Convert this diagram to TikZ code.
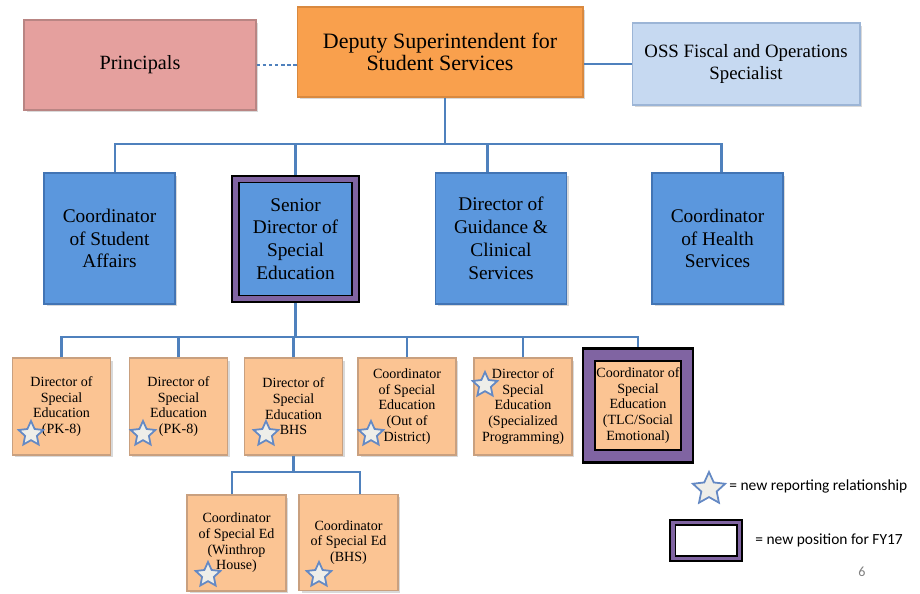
\documentclass[tikz,border=0pt]{standalone}
\usepackage{fontspec}
\setmainfont{Liberation Serif}
\newfontfamily\legendfont{Carlito}
\usepackage{tikz}
\usetikzlibrary{positioning}
\usetikzlibrary{shapes.geometric}
\usetikzlibrary{shadows}
\usepackage{xcolor}

\definecolor{linkblue}{HTML}{4F81BD}
\definecolor{principalpink}{HTML}{E5A09E}
\definecolor{principaledge}{HTML}{B98583}
\definecolor{deputyorange}{HTML}{F9A04D}
\definecolor{deputyedge}{HTML}{D9893F}
\definecolor{osslight}{HTML}{C6D9F1}
\definecolor{ossedge}{HTML}{9CB5D6}
\definecolor{midblue}{HTML}{5B97DD}
\definecolor{midedge}{HTML}{4274B4}
\definecolor{newpurple}{HTML}{8064A2}
\definecolor{lowpeach}{HTML}{FBC493}
\definecolor{lowedge}{HTML}{C9A07F}
\definecolor{starfill}{HTML}{EEEEE9}
\definecolor{staredge}{HTML}{6489C4}

\begin{document}
\begin{tikzpicture}[x=0.02cm, y=-0.02cm,
box/.style={rectangle, align=center, inner sep=0pt, line width=0.6pt,
  drop shadow={shadow xshift=0.05cm, shadow yshift=-0.05cm, opacity=0.3}},
topbox/.style={box, font=\fontsize{11.5}{12.8}\selectfont},
midbox/.style={box, fill=midblue, draw=midedge, minimum width=2.62cm, minimum height=2.62cm, font=\fontsize{11}{13}\selectfont},
lowbox/.style={box, fill=lowpeach, draw=lowedge, minimum width=1.96cm, minimum height=1.94cm, font=\fontsize{8}{8.9}\selectfont},
newpos/.style={draw=black, line width=1.1pt, double=newpurple, double distance=0.1cm, outer sep=2.5pt},
link/.style={linkblue, line width=1.7pt},
sublink/.style={linkblue, line width=1.3pt},
starmark/.style={star, star points=5, star point ratio=2.1, draw=staredge, fill=starfill, line width=1pt, minimum size=0.52cm, inner sep=0pt},
legend/.style={anchor=west, inner sep=0pt, font=\legendfont\fontsize{8.8}{10}\selectfont}
]
\useasboundingbox (0,0) rectangle (920,594);

% TOP %
%%%%%%%%%%%%  Deputy and side boxes %%%%%%%%%%%%%
{
\node[topbox, fill=principalpink, draw=principaledge, minimum width=4.64cm, minimum height=1.8cm] (pr) at (140,65) {Principals};

\node[topbox, fill=deputyorange, draw=deputyedge, minimum width=5.72cm, minimum height=1.8cm, font=\fontsize{12.5}{12.8}\selectfont] (dep) at (440,52)
{Deputy Superintendent for\\Student Services};

\node[topbox, fill=osslight, draw=ossedge, minimum width=4.56cm, minimum height=1.64cm, font=\fontsize{10.7}{12}\selectfont] (oss) at (746,64)
{OSS Fiscal and Operations\\Specialist};
}

%%%%%%%%%%%%  Middle row %%%%%%%%%%%%%
{
\node[midbox] (sa) at (109.5,238.5) {Coordinator\\of Student\\Affairs};
\node[midbox, newpos, minimum width=2.4cm, minimum height=2.4cm] (sd) at (295.5,239)
{Senior\\Director of\\Special\\Education};
\node[midbox] (gd) at (501,238.5) {Director of\\Guidance \&\\Clinical\\Services};
\node[midbox] (hs) at (717.5,238.5) {Coordinator\\of Health\\Services};
}

%%%%%%%%%%%%  Special education row %%%%%%%%%%%%%
{
\node[lowbox] (b1) at (61.5,406.5) {Director of\\Special\\Education\\(PK-8)};
\node[lowbox] (b2) at (178.5,406.5) {Director of\\Special\\Education\\(PK-8)};
\node[lowbox] (b3) at (293.5,406.5) {Director of\\Special\\Education\\BHS};
\node[lowbox] (b4) at (407,406.5) {Coordinator\\of Special\\Education\\(Out of\\District)};
\node[lowbox] (b5) at (523,406.5) {Director of\\Special\\Education\\(Specialized\\Programming)};
\node[lowbox, newpos, line width=1.25pt, double distance=0.2cm, outer sep=4pt, minimum height=2.04cm] (b6) at (638,405.5)
{Coordinator of\\Special\\Education\\(TLC/Social\\Emotional)};

\node[lowbox, minimum width=1.98cm, minimum height=1.92cm] (b7) at (236.5,543) {Coordinator\\of Special Ed\\(Winthrop\\House)};
\node[lowbox, minimum width=1.98cm, minimum height=1.92cm] (b8) at (348.5,542.5) {Coordinator\\of Special Ed\\(BHS)};
}

% links
{
\draw[linkblue, line width=0.9pt, dash pattern=on 2pt off 1.5pt] (pr.east) -- (pr.east -| dep.west);
\draw[linkblue, line width=1.1pt] (oss.west) -- (oss.west -| dep.east);

\coordinate (topbus) at (0,144);
\coordinate (depfoot) at ([xshift=0.1cm]dep.south);
\coordinate (satop) at ([xshift=0.11cm]sa.north);
\coordinate (gdtop) at ([xshift=-0.28cm]gd.north);
\coordinate (hstop) at ([xshift=0.07cm]hs.north);
\draw[link] (depfoot) -- (depfoot |- topbus);
\draw[link] (satop) -- (satop |- topbus) -- (hstop |- topbus) -- (hstop);
\foreach \n in {sd.north, gdtop}
\draw[link] (\n) -- (\n |- topbus);

\coordinate (lowbus) at (0,337);
\draw[sublink] (b1.north) -- (b1.north |- lowbus) -- (b6.north |- lowbus) -- (b6.north);
\draw[sublink] (sd.south) -- (sd.south |- lowbus);
\foreach \b in {b2,b3,b4,b5}
\draw[sublink] (\b.north) -- (\b.north |- lowbus);

\coordinate (subbus) at (0,472);
\coordinate (b7top) at ([xshift=-0.09cm]b7.north);
\coordinate (b8top) at ([xshift=0.23cm]b8.north);
\draw[sublink] (b3.south) -- (b3.south |- subbus);
\draw[sublink] (b7top) -- (b7top |- subbus) -- (b8top |- subbus) -- (b8top);
}

% stars
{
\foreach \s/\x/\y in {s1/31/434, s2/143/434, s3/266/434, s4/371/434, s5/485/385, s7/208/575, s8/319/575}
\node[starmark] (\s) at (\x,\y) {};
}

% legend
{
\node[starmark, minimum size=0.68cm] (lgstar) at (709,489) {};
\node[legend] (lgstartext) at (729,486) {= new reporting relationship};
\node[box, newpos, fill=white, line width=1pt, double distance=0.07cm, minimum width=1.33cm, minimum height=0.73cm] (lgbox) at (706,540.5) {};
\node[legend] (lgboxtext) at (755,540) {= new position for FY17};
\node[font=\legendfont\fontsize{8}{9}\selectfont, text=gray] (page) at (862,572) {6};
}

\end{tikzpicture}
\end{document}
